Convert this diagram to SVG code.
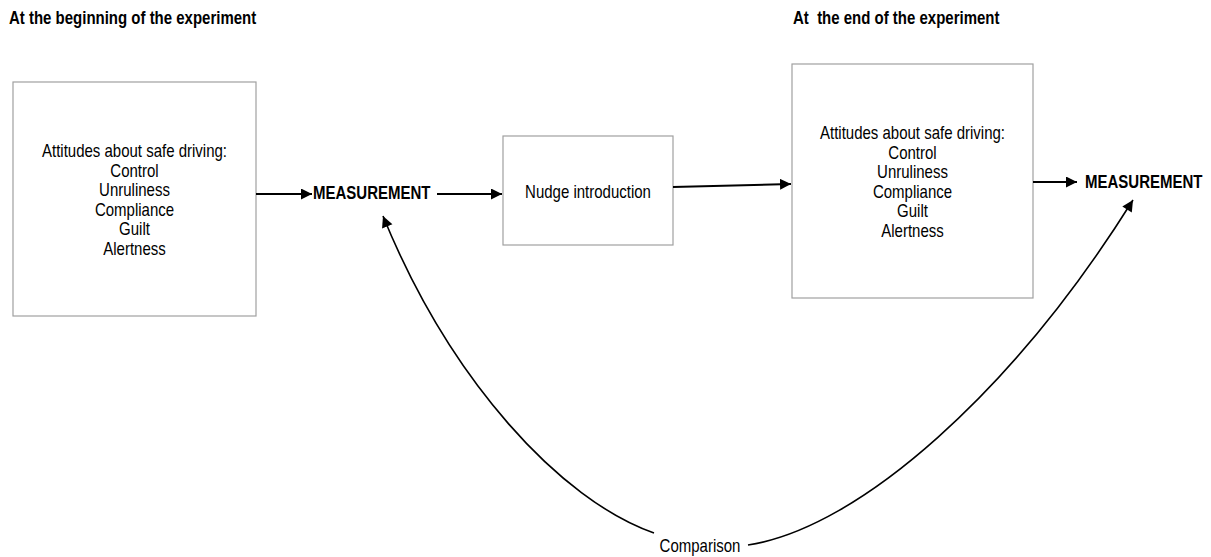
<svg xmlns="http://www.w3.org/2000/svg" width="1211" height="557" viewBox="0 0 1211 557">
<style>
  text { font-family: "Liberation Sans", Arial, sans-serif; font-size: 15px; fill: #000; }
  .hdr { font-weight: bold; white-space: pre; }
  .bold { font-weight: bold; }
  .box { fill: #fff; stroke: #a0a0a0; stroke-width: 1.2; }
  .ctr { text-anchor: middle; }
  .conn { fill: none; stroke: #000; stroke-width: 2; }
  .curve { fill: none; stroke: #000; stroke-width: 1.6; }
</style>
<defs>
  <marker id="ah" viewBox="0 0 10 10" refX="10" refY="5" markerWidth="5.5" markerHeight="5.5" orient="auto" markerUnits="strokeWidth">
    <path d="M0,0 L10,5 L0,10 z" fill="#000"/>
  </marker>
  <marker id="ah2" viewBox="0 0 10 10" refX="10" refY="5" markerWidth="7.5" markerHeight="7" orient="auto" markerUnits="strokeWidth">
    <path d="M0,0 L10,5 L0,10 z" fill="#000"/>
  </marker>
</defs>
<rect width="1211" height="557" fill="#fff"/>

<g id="header-begin"><text class="hdr" transform="translate(9,24) scale(1,1.2)">At the beginning of the experiment</text></g>
<g id="header-end"><text class="hdr" transform="translate(793,24) scale(1,1.2)" xml:space="preserve">At  the end of the experiment</text></g>

<g id="box-begin">
  <rect class="box" x="13" y="82" width="243" height="234"/>
  <text class="ctr" transform="translate(134.5,157) scale(1,1.25)">Attitudes about safe driving:</text>
  <text class="ctr" transform="translate(134.5,176.6) scale(1,1.25)">Control</text>
  <text class="ctr" transform="translate(134.5,196.2) scale(1,1.25)">Unruliness</text>
  <text class="ctr" transform="translate(134.5,215.8) scale(1,1.25)">Compliance</text>
  <text class="ctr" transform="translate(134.5,235.4) scale(1,1.25)">Guilt</text>
  <text class="ctr" transform="translate(134.5,255) scale(1,1.25)">Alertness</text>
</g>

<g id="measurement-1"><text class="bold" transform="translate(313,198.5) scale(1,1.25)">MEASUREMENT</text></g>

<g id="box-nudge">
  <rect class="box" x="503" y="136" width="170" height="109"/>
  <text class="ctr" transform="translate(588,198) scale(1,1.25)">Nudge introduction</text>
</g>

<g id="box-end">
  <rect class="box" x="792" y="64" width="241" height="234"/>
  <text class="ctr" transform="translate(912.5,139) scale(1,1.25)">Attitudes about safe driving:</text>
  <text class="ctr" transform="translate(912.5,158.6) scale(1,1.25)">Control</text>
  <text class="ctr" transform="translate(912.5,178.2) scale(1,1.25)">Unruliness</text>
  <text class="ctr" transform="translate(912.5,197.8) scale(1,1.25)">Compliance</text>
  <text class="ctr" transform="translate(912.5,217.4) scale(1,1.25)">Guilt</text>
  <text class="ctr" transform="translate(912.5,237) scale(1,1.25)">Alertness</text>
</g>

<g id="measurement-2"><text class="bold" transform="translate(1085,188) scale(1,1.25)">MEASUREMENT</text></g>

<g id="comparison"><text class="ctr" transform="translate(700,552) scale(1,1.25)">Comparison</text></g>

<g id="connectors">
  <line class="conn" x1="256" y1="194" x2="312" y2="194" marker-end="url(#ah)"/>
  <line class="conn" x1="437" y1="194" x2="502" y2="194" marker-end="url(#ah)"/>
  <line class="conn" x1="673" y1="187" x2="791" y2="184" marker-end="url(#ah)"/>
  <line class="conn" x1="1033" y1="182" x2="1077" y2="182" marker-end="url(#ah)"/>
  <path class="curve" d="M654,533 C560,500 450,380 383,216" marker-end="url(#ah2)"/>
  <path class="curve" d="M748,545 C860,528 1014,390 1133,200" marker-end="url(#ah2)"/>
</g>
</svg>
